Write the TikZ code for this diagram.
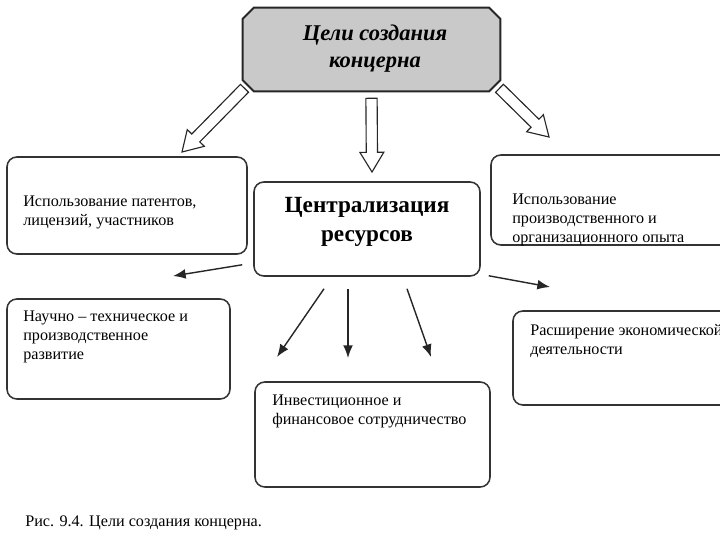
\documentclass[tikz,border=0pt]{standalone}
\usepackage{fontspec}
\setmainfont{Liberation Serif}
\usetikzlibrary{arrows.meta,calc,fit}

\begin{document}
\begin{tikzpicture}[x=0.025cm,y=-0.025cm,
  box/.style={draw=black!80,line width=1.1pt,rounded corners=7pt,inner sep=0pt},
  goalbox/.style={draw=black!85,line width=1.4pt,fill=gray!42},
  txt/.style={anchor=west,align=left,inner sep=0pt,font=\fontsize{11.5}{13.5}\selectfont},
  arr/.style={-{Latex[length=9pt,width=7pt]},line width=1pt,black!85},
  hollow/.style={draw=black!85,line width=0.8pt,fill=white,to path={
    ($(\tikztostart)!4pt!90:(\tikztotarget)$)
    -- ($(\tikztotarget)!14pt!(\tikztostart)!4pt!90:(\tikztotarget)$)
    -- ($(\tikztotarget)!14pt!(\tikztostart)!8.5pt!90:(\tikztotarget)$)
    -- (\tikztotarget)
    -- ($(\tikztotarget)!14pt!(\tikztostart)!8.5pt!-90:(\tikztotarget)$)
    -- ($(\tikztotarget)!14pt!(\tikztostart)!4pt!-90:(\tikztotarget)$)
    -- ($(\tikztostart)!4pt!-90:(\tikztotarget)$) -- cycle}}]
\clip (0,0) rectangle (720,540);

\node[inner sep=0pt,fit={(243,8) (500,91)}] (goal) {};
\draw[goalbox] ([shift={(11,0)}]goal.north west) -- ([shift={(-11,0)}]goal.north east)
  -- ([shift={(0,11)}]goal.north east) -- ([shift={(0,-11)}]goal.south east)
  -- ([shift={(-11,0)}]goal.south east) -- ([shift={(11,0)}]goal.south west)
  -- ([shift={(0,-11)}]goal.south west) -- ([shift={(0,11)}]goal.north west) -- cycle;
\node[align=center,inner sep=0pt,font=\fontsize{16}{19.5}\selectfont\bfseries\itshape] (goaltext) at (375,48.5) {Цели создания\\концерна};

\node[box,fit={(254,182) (480,276)}] (res) {};
\node[align=center,inner sep=0pt,font=\fontsize{16.5}{20.5}\selectfont\bfseries] (restext) at (367,221.5) {Централизация\\ресурсов};

\node[box,fit={(7,157) (247,254)}] (pat) {};
\node[txt] (pattext) at (23,212.5) {Использование патентов,\\лицензий, участников};

\node[box,fit={(491,155) (745,245)}] (exp) {};
\node[txt] (exptext) at (512,220) {Использование\\производственного и\\организационного опыта};

\node[box,fit={(7,299) (230,399)}] (sci) {};
\node[txt] (scitext) at (23,337) {Научно -- техническое и\\производственное\\развитие};

\node[box,fit={(513,311) (745,405)}] (ext) {};
\node[txt] (exttext) at (530,341.5) {Расширение экономической\\деятельности};

\node[box,fit={(255,382) (490,487)}] (inv) {};
\node[txt] (invtext) at (272,411.5) {Инвестиционное и\\финансовое сотрудничество};

\node[anchor=west,inner sep=0pt,font=\fontsize{11.5}{14}\selectfont] (caption) at (25,523) {Рис. 9.4. Цели создания концерна.};

\coordinate (h1) at ([shift={(-127,-3)}]goal.south);
\coordinate (h1e) at (182,152);
\coordinate (h2) at ([shift={(0,7)}]goal.south);
\coordinate (h2e) at (372,172);
\coordinate (h3) at ([shift={(128,-3)}]goal.south);
\coordinate (h3e) at (549,137);
\draw[hollow] (h1) to (h1e);
\draw[hollow] (h2) to (h2e);
\draw[hollow] (h3) to (h3e);

\coordinate (a1) at (173,276);
\coordinate (a2) at (550,287);
\coordinate (a3) at (277,357);
\coordinate (a4) at (348,358);
\coordinate (a5) at (431,357);
\draw[arr] ([shift={(-11,-12)}]res.south west) -- (a1);
\draw[arr] ([shift={(8,-1)}]res.south east) -- (a2);
\draw[arr] ([shift={(-43,12)}]res.south) -- (a3);
\draw[arr] ([shift={(-19,12)}]res.south) -- (a4);
\draw[arr] ([shift={(40,12)}]res.south) -- (a5);
\end{tikzpicture}
\end{document}
